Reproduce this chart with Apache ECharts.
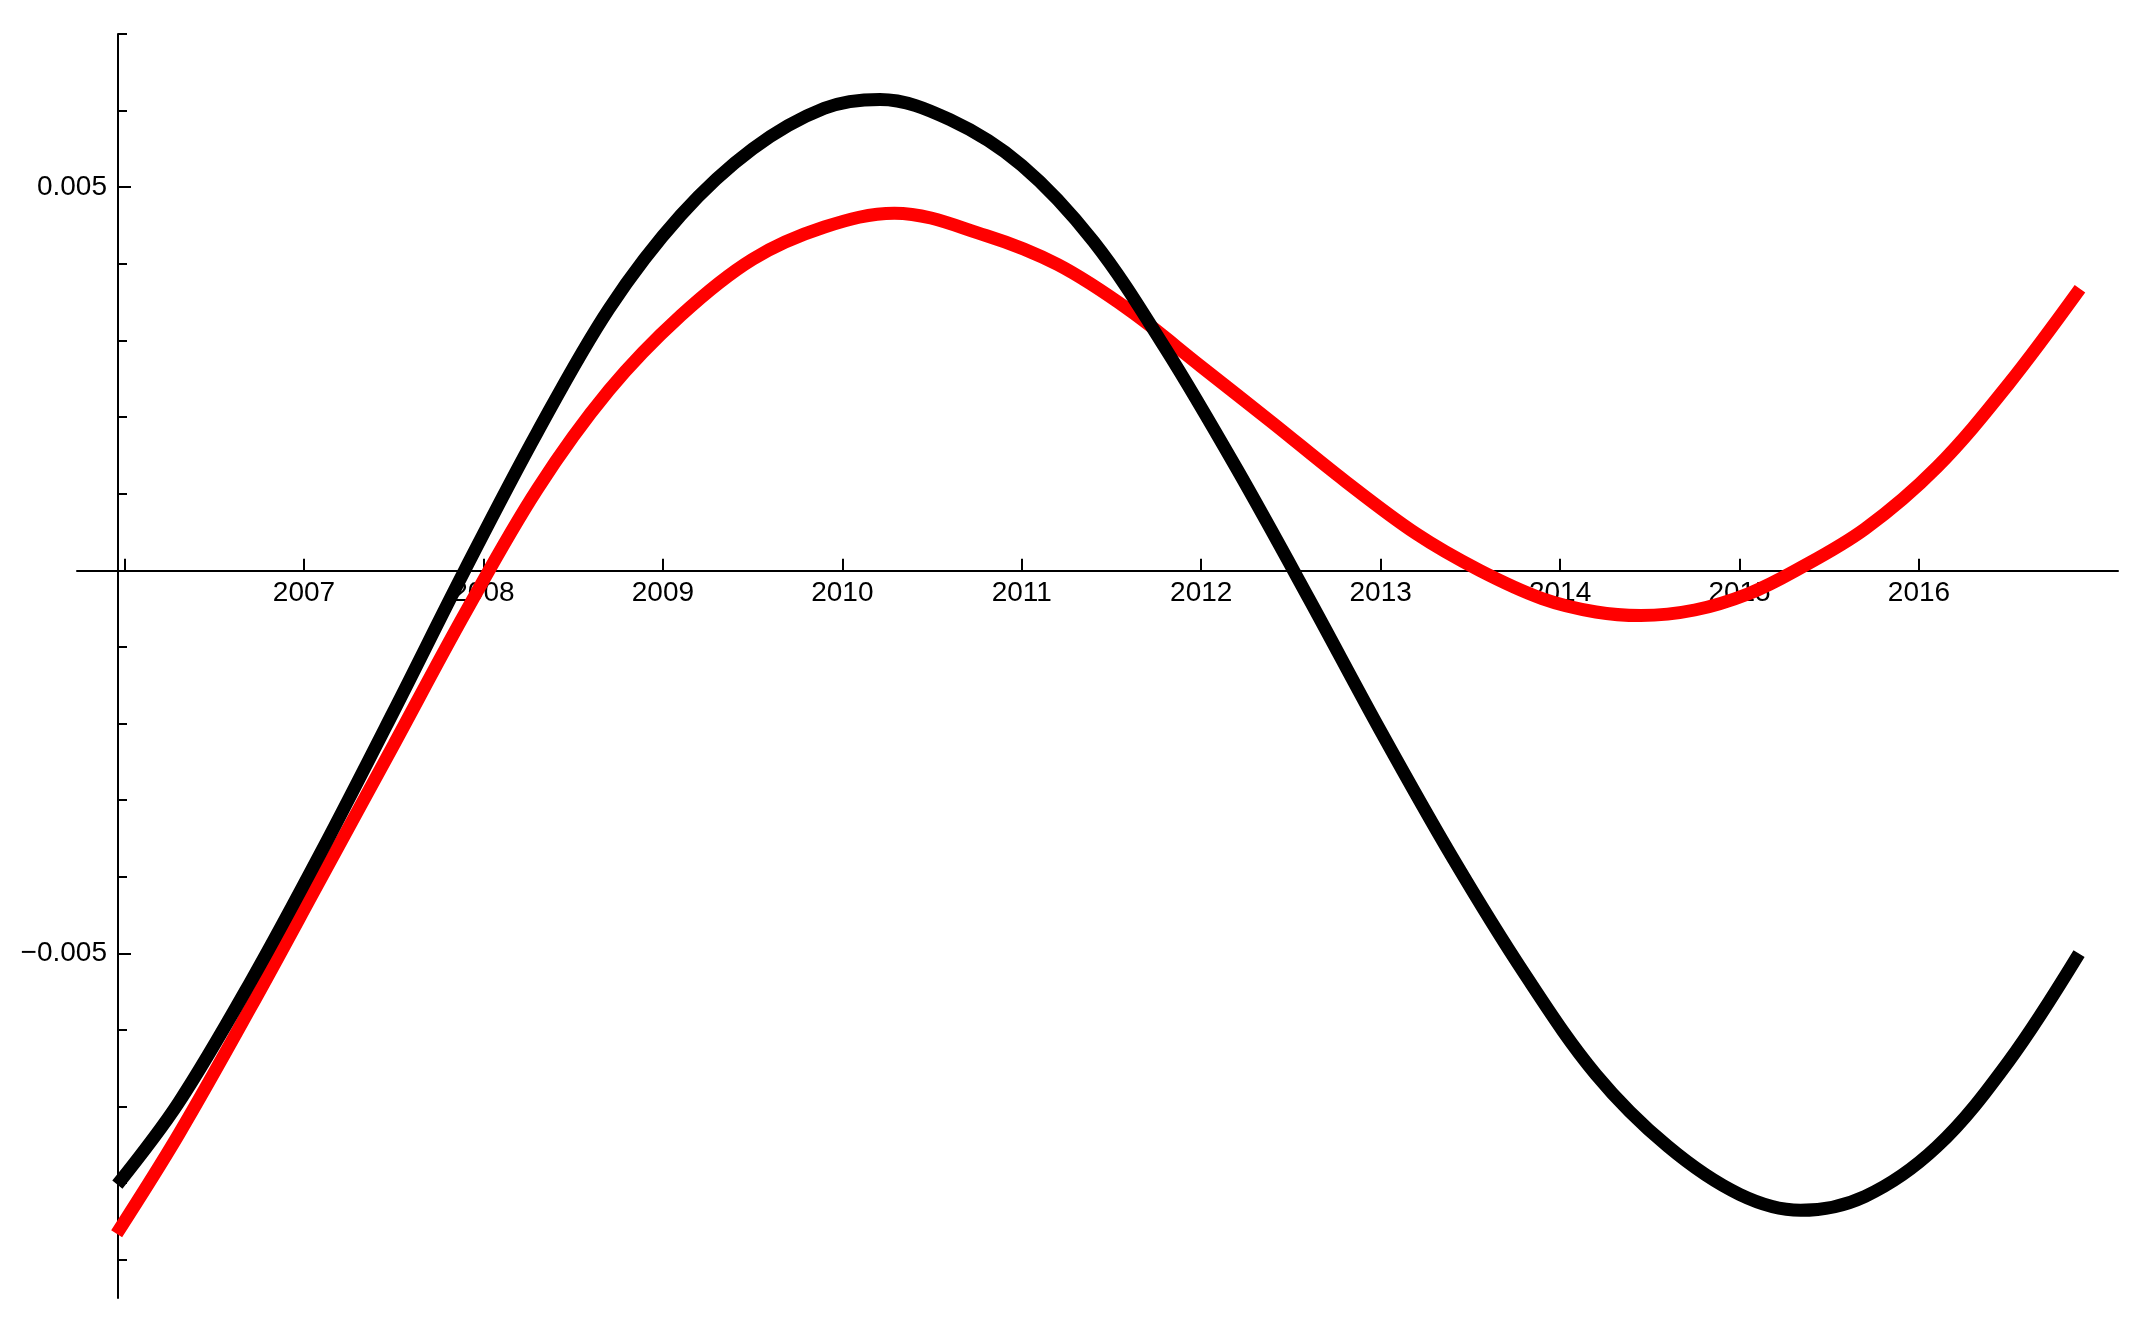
<!DOCTYPE html>
<html>
<head>
<meta charset="utf-8">
<title>Chart</title>
<script src="https://cdn.jsdelivr.net/npm/echarts@6/dist/echarts.min.js"></script>
<style>
  html, body { margin: 0; padding: 0; background: #fff; }
  #container { width: 2146px; height: 1328px; }
</style>
</head>
<body>
<div id="container"></div>
<script>
// year ticks on the horizontal axis (2006 has a tick but no label)
var tickYears = [2006, 2007, 2008, 2009, 2010, 2011, 2012, 2013, 2014, 2015, 2016];
var labelYears = [2007, 2008, 2009, 2010, 2011, 2012, 2013, 2014, 2015, 2016];

// vertical ticks: small ones every 0.001, big ones with labels at +-0.005
var yMinorTicks = [-0.009, -0.008, -0.007, -0.006, -0.004, -0.003, -0.002, -0.001,
                   0.001, 0.002, 0.003, 0.004, 0.006, 0.007];
var yMajorTicks = [-0.005, 0.005];

// black curve
var blackYear = [2005.960, 2006.3, 2006.7, 2007.1, 2007.5, 2007.9, 2008.3, 2008.7,
                 2009.1, 2009.5, 2009.9, 2010.21, 2010.6, 2011.0, 2011.4, 2011.8,
                 2012.2, 2012.6, 2013.0, 2013.4, 2013.8, 2014.2, 2014.6, 2015.0,
                 2015.34, 2015.7, 2016.1, 2016.5, 2016.892];
var blackValue = [-0.00802, -0.006954, -0.005383, -0.003659, -0.00184, 0.00002, 0.0018, 0.003414,
                  0.004635, 0.0055, 0.00603, 0.006145, 0.005881, 0.005285, 0.00429, 0.002896,
                  0.001317, -0.00037, -0.0021, -0.00375, -0.005261, -0.006583, -0.00752, -0.008147,
                  -0.008355, -0.008172, -0.007524, -0.00641, -0.005004];

// red curve
var redYear = [2005.956, 2006.3, 2006.7, 2007.1, 2007.5, 2007.9, 2008.3, 2008.7,
               2009.1, 2009.5, 2009.9, 2010.29, 2010.8, 2011.2, 2011.6, 2012.0,
               2012.4, 2012.8, 2013.2, 2013.55, 2013.9, 2014.2, 2014.45, 2014.75,
               2015.05, 2015.315, 2015.7, 2016.1, 2016.5, 2016.897];
var redValue = [-0.00866, -0.00737, -0.005717, -0.004, -0.002279, -0.00055, 0.001058, 0.00235,
                0.003325, 0.00406, 0.00448, 0.004661, 0.00437, 0.00399, 0.003395, 0.002659,
                0.001919, 0.001167, 0.000474, 0.0, -0.00037, -0.000545, -0.000591, -0.000519,
                -0.000306, 0.0, 0.000542, 0.001346, 0.002433, 0.003674];

function pairs(xs, ys) {
    var out = [];
    for (var i = 0; i < xs.length; i++) {
        out.push([xs[i], ys[i]]);
    }
    return out;
}

var labelFont = '"Liberation Sans", Arial, sans-serif';

var dom = document.getElementById("container");
var myChart = echarts.init(dom, null, {renderer: 'canvas'});
var option = {
    animation: false,
    backgroundColor: '#ffffff',
    grid: {left: 77, right: 28, top: 34, bottom: 30},
    xAxis: {
        type: 'value',
        min: 2005.735,
        max: 2017.109,
        position: 'bottom',
        // move the axis up to the zero line (ticks and labels follow)
        offset: -727.3,
        axisLine: {onZero: false, lineStyle: {color: '#000', width: 2}},
        axisTick: {
            inside: true,
            length: 12,
            customValues: tickYears,
            lineStyle: {color: '#000', width: 2}
        },
        axisLabel: {
            customValues: labelYears,
            formatter: function (v) { return String(Math.round(v)); },
            fontSize: 28,
            fontFamily: labelFont,
            color: '#000',
            margin: 9
        },
        splitLine: {show: false}
    },
    yAxis: [
        {
            // axis line with the small ticks
            type: 'value',
            position: 'left',
            offset: -41,
            min: -0.0095,
            max: 0.007,
            axisLine: {show: true, onZero: false, lineStyle: {color: '#000', width: 2}},
            axisTick: {
                inside: true,
                length: 9,
                customValues: yMinorTicks,
                lineStyle: {color: '#000', width: 2}
            },
            axisLabel: {show: false},
            splitLine: {show: false}
        },
        {
            // long ticks and their labels
            type: 'value',
            position: 'left',
            offset: -41,
            min: -0.0095,
            max: 0.007,
            axisLine: {show: false, onZero: false},
            axisTick: {
                inside: true,
                length: 13,
                customValues: yMajorTicks,
                lineStyle: {color: '#000', width: 2}
            },
            axisLabel: {
                customValues: yMajorTicks,
                formatter: function (v) {
                    return v < 0 ? '\u2212' + Math.abs(v).toFixed(3) : v.toFixed(3);
                },
                fontSize: 28,
                fontFamily: labelFont,
                color: '#000',
                margin: 11
            },
            splitLine: {show: false}
        }
    ],
    series: [
        {
            name: 'red',
            type: 'line',
            yAxisIndex: 0,
            data: pairs(redYear, redValue),
            showSymbol: false,
            smooth: 0.35,
            lineStyle: {color: '#ff0000', width: 13, cap: 'butt'}
        },
        {
            name: 'black',
            type: 'line',
            yAxisIndex: 0,
            data: pairs(blackYear, blackValue),
            showSymbol: false,
            smooth: 0.35,
            lineStyle: {color: '#000000', width: 13, cap: 'butt'}
        }
    ]
};
if (option && typeof option === "object") {
    myChart.setOption(option, true);
}
</script>
</body>
</html>
